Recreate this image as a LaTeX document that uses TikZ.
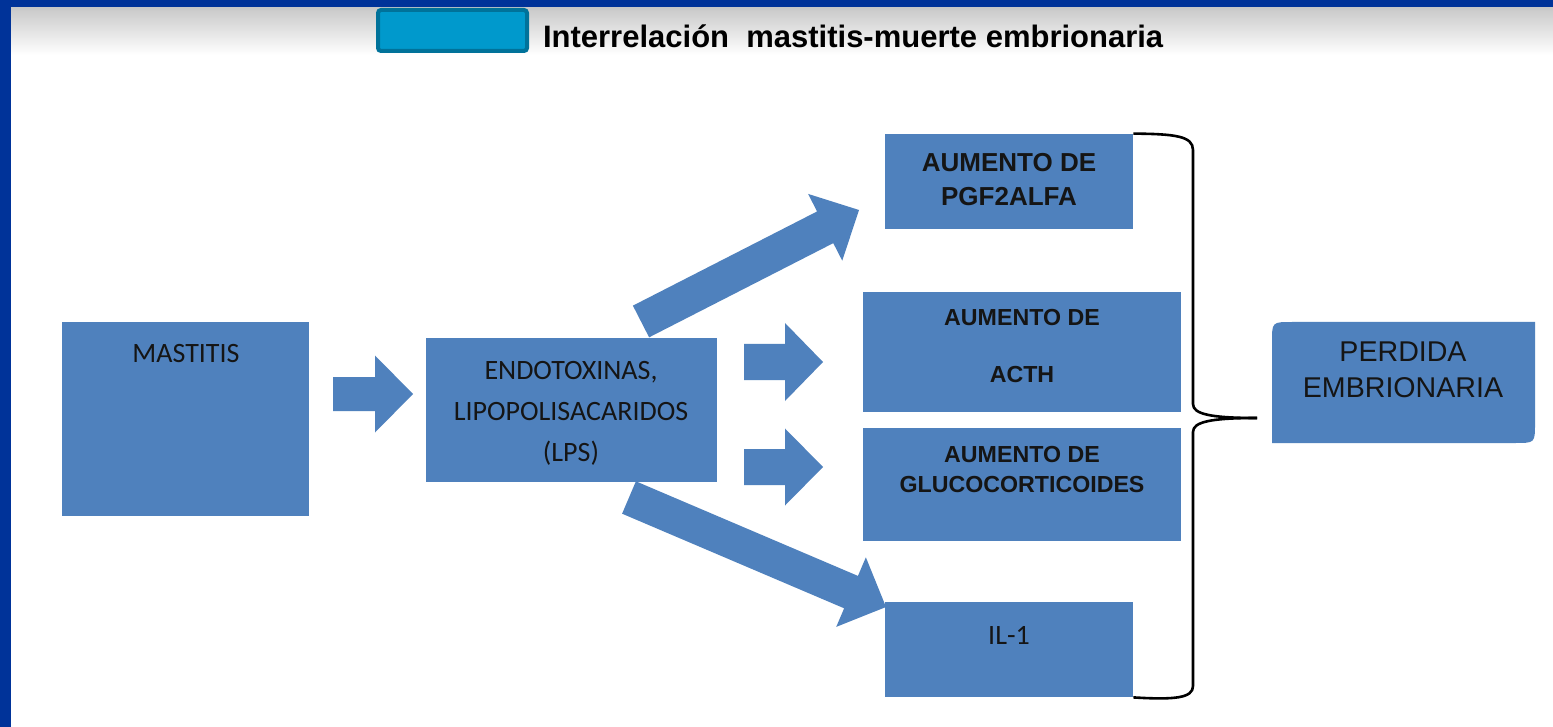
\documentclass[tikz,border=0pt]{standalone}
\usepackage{fontspec}
\setmainfont{Liberation Sans}
\newfontfamily\calibrifont{Carlito}
\usetikzlibrary{calc,fit}
\definecolor{boxblue}{HTML}{4F81BD}
\definecolor{frameblue}{HTML}{003399}
\definecolor{iconfill}{HTML}{0099CC}
\definecolor{icondraw}{HTML}{00729A}
\definecolor{gradtop}{HTML}{C8C8C8}
\definecolor{txt}{HTML}{151515}
\newcommand\blockarrow[5]{%
  \coordinate (hb) at ($(#2)!#5!(#1)$);
  \fill[boxblue] ($(#1)!#3!90:(#2)$) -- ($(hb)!#3!90:(#2)$) -- ($(hb)!#4!90:(#2)$)
    -- (#2) -- ($(hb)!#4!-90:(#2)$) -- ($(hb)!#3!-90:(#2)$) -- ($(#1)!#3!-90:(#2)$) -- cycle;}
\begin{document}
\begin{tikzpicture}[x=0.5pt,y=-0.5pt,
  box/.style={fill=boxblue,draw=none,inner sep=0pt},
  cbtext/.style={text=txt,align=center,font=\calibrifont\fontsize{14}{20.5}\selectfont},
  boldtext/.style={text=txt,align=center,font=\bfseries\fontsize{13}{17}\selectfont},
  boldsmall/.style={text=txt,align=center,font=\bfseries\fontsize{11.6}{#1}\selectfont},
  bracestyle/.style={draw=black,line width=1.3pt},
  iconbox/.style={fill=iconfill,draw=icondraw,line width=2pt,rounded corners=1.5pt,inner sep=0pt}]
\useasboundingbox (0,0) rectangle (1553,727);
\fill[white] (0,0) rectangle (1553,727);
% header
\shade[top color=gradtop,bottom color=white] (11,7) rectangle (1553,55);
\fill[frameblue] (0,0) rectangle (1553,7);
\fill[frameblue] (0,0) rectangle (11,727);
\node[iconbox,fit={(378,10) (527,51)}] (icon) {};
\node[anchor=base west,text=black,font=\bfseries\fontsize{15.5}{18}\selectfont] (title) at (536,48) {Interrelación\ \ mastitis-muerte embrionaria};
% boxes
\node[box,fit={(62,322) (309,516)}] (mast) {};
\node[box,fit={(426,338) (717,482)}] (endo) {};
\node[box,fit={(885,134) (1133,229)}] (pgf) {};
\node[box,fit={(863,292) (1181,412)}] (acth) {};
\node[box,fit={(863,428) (1181,541)}] (gluc) {};
\node[box,fit={(885,602) (1133,697)}] (il) {};
\fill[boxblue] (1292,322) -- (1535,322) -- (1535,423) .. controls (1535,443) .. (1515,443) -- (1272,443) -- (1272,342) .. controls (1272,322) .. (1292,322) -- cycle;
\node[inner sep=0pt,fit={(1272,322) (1535,443)}] (perd) {};
% texts
\node[cbtext] (mast-t) at (186,354) {MASTITIS};
\node[cbtext] (endo-t) at (571,413) {ENDOTOXINAS,\\LIPOPOLISACARIDOS\\(LPS)};
\node[boldtext] (pgf-t) at (1009,180) {AUMENTO DE\\PGF2ALFA};
\node[boldsmall=28.5] (acth-t) at (1022,346.5) {AUMENTO DE\\ACTH};
\node[boldsmall=15] (gluc-t) at (1022,470) {AUMENTO DE\\GLUCOCORTICOIDES};
\node[cbtext] (il-t) at (1009,635) {IL-1};
\node[text=txt,align=center,font=\fontsize{14.3}{18}\selectfont] (perd-t) at (1403,370) {PERDIDA\\EMBRIONARIA};
% block arrows
\coordinate (a1s) at (333,394); \coordinate (a1e) at (413,394);
\coordinate (a2s) at (744,362); \coordinate (a2e) at (823,362);
\coordinate (a3s) at (744,467); \coordinate (a3e) at (823,467);
\coordinate (a4s) at (641,321.5); \coordinate (a4e) at (859,210);
\coordinate (a5s) at (629,497.5); \coordinate (a5e) at (886,607);
\blockarrow{a1s}{a1e}{8.5pt}{19.25pt}{19pt}
\blockarrow{a2s}{a2e}{9pt}{19.5pt}{19pt}
\blockarrow{a3s}{a3e}{9pt}{19.25pt}{19pt}
\blockarrow{a4s}{a4e}{8.9pt}{18.75pt}{19pt}
\blockarrow{a5s}{a5e}{8.8pt}{18.9pt}{19pt}
% brace
\coordinate (btip) at (1257,418);
\draw[bracestyle] (pgf.north east) .. controls (1175,134) and (1193,136) .. (1193,150) -- (1193,404) .. controls (1193,414) and (1210,418) .. (btip);
\draw[bracestyle] (btip) .. controls (1210,418) and (1193,422) .. (1193,432) -- (1193,686) .. controls (1193,698) and (1175,700) .. (il.south east);
\end{tikzpicture}
\end{document}
